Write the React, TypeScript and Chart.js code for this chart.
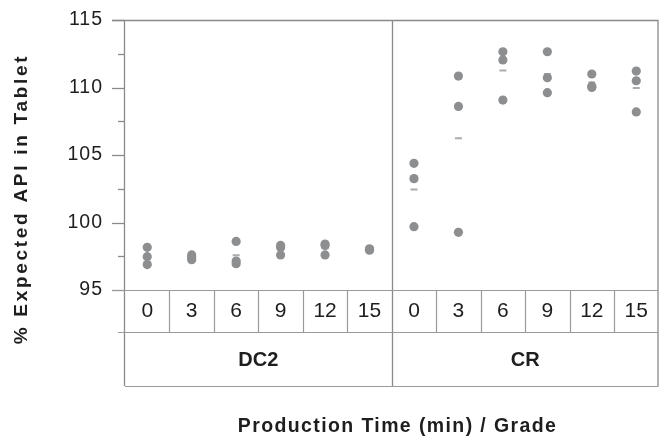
import React, { useEffect, useRef } from 'react';
import { Chart, registerables } from 'chart.js';

Chart.register(...registerables);

const timeLabels = ['0', '3', '6', '9', '12', '15'];
const gradeLabels = ['DC2', 'CR'];
const dc2Values = [
  [98.16, 97.47, 96.88],
  [97.6, 97.4, 97.25],
  [98.6, 97.15, 96.95],
  [98.3, 98.15, 97.6],
  [98.4, 98.3, 97.6],
  [98.05, 98.0, 97.95],
];
const crValues = [
  [104.38, 103.25, 99.69],
  [110.85, 108.6, 99.27],
  [112.65, 112.04, 109.07],
  [112.65, 110.73, 109.62],
  [111.0, 110.1, 110.0],
  [111.22, 110.5, 108.19],
];
const yMin = 95;
const yMax = 115;
const yStep = 2.5;
const yTitle = '% Expected API in Tablet';
const xTitle = 'Production Time (min) / Grade';

const groups = [dc2Values, crValues];

function fitText(ctx: CanvasRenderingContext2D, text: string, target: number) {
  ctx.letterSpacing = '0px';
  const w = ctx.measureText(text).width;
  const sp = Math.max(0, (target - w) / Math.max(1, text.length - 1));
  ctx.letterSpacing = sp.toFixed(2) + 'px';
  return sp;
}

export default function App() {
  const ref = useRef<HTMLCanvasElement>(null);
  useEffect(() => {
    if (!ref.current) return;
    const points: { x: number; y: number }[] = [];
    const means: { x: number; y: number }[] = [];
    groups.forEach((g, gi) =>
      g.forEach((vals, ti) => {
        const x = gi * timeLabels.length + ti + 0.5;
        vals.forEach((v) => points.push({ x, y: v }));
        means.push({ x, y: vals.reduce((a, b) => a + b, 0) / vals.length });
      })
    );
    const ncol = groups.length * timeLabels.length;
    const FONT = '"Liberation Sans", Arial, Helvetica, sans-serif';

    const framePlugin = {
      id: 'frame',
      beforeDraw(chart: any) {
        chart.ctx.letterSpacing = '1px';
      },
      beforeDatasetsDraw(chart: any) {
        chart.ctx.letterSpacing = '0px';
      },
      afterDraw(chart: any) {
        const { ctx, chartArea: ca, scales } = chart;
        const xs = scales.x;
        const ys = scales.y;
        const top = ca.top;
        const bottom = ca.bottom;
        const left = ca.left;
        const right = ca.right;
        const row1 = bottom + 42;
        const row2 = bottom + 96;
        ctx.save();
        ctx.letterSpacing = '0px';
        ctx.lineWidth = 1.3;
        ctx.strokeStyle = '#8a8a8a';
        ys.ticks.forEach((t: any) => {
          const py = Math.round(ys.getPixelForValue(t.value)) + 0.5;
          const major = Math.abs(t.value % 5) < 1e-6;
          ctx.beginPath();
          ctx.moveTo(left - (major ? 13 : 7), py);
          ctx.lineTo(left, py);
          ctx.stroke();
        });
        ctx.beginPath();
        ctx.moveTo(left - 0.5, top);
        ctx.lineTo(left - 0.5, row2);
        ctx.stroke();
        ctx.beginPath();
        ctx.moveTo(left - 13, top + 0.5);
        ctx.lineTo(right - 0.5, top + 0.5);
        ctx.lineTo(right - 0.5, row2);
        ctx.stroke();
        const midX = Math.round(xs.getPixelForValue(timeLabels.length)) + 0.5;
        ctx.beginPath();
        ctx.moveTo(midX, top);
        ctx.lineTo(midX, row2);
        ctx.stroke();
        ctx.strokeStyle = '#9a9a9a';
        ctx.lineWidth = 1.2;
        ctx.beginPath();
        ctx.moveTo(left - 13, bottom + 0.5);
        ctx.lineTo(right, bottom + 0.5);
        ctx.moveTo(left - 7, row1 + 0.5);
        ctx.lineTo(right, row1 + 0.5);
        ctx.moveTo(left, row2 + 0.5);
        ctx.lineTo(right, row2 + 0.5);
        for (let i = 1; i < ncol; i++) {
          if (i === timeLabels.length) continue;
          const px = Math.round(xs.getPixelForValue(i)) + 0.5;
          ctx.moveTo(px, bottom);
          ctx.lineTo(px, row1);
        }
        ctx.stroke();
        ctx.fillStyle = '#1e1e1e';
        ctx.textAlign = 'center';
        ctx.textBaseline = 'middle';
        ctx.font = '21px ' + FONT;
        for (let gi = 0; gi < groups.length; gi++) {
          timeLabels.forEach((lab, ti) => {
            const c = gi * timeLabels.length + ti + 0.5;
            ctx.fillText(lab, xs.getPixelForValue(c), bottom + 21);
          });
        }
        ctx.font = 'bold 20px ' + FONT;
        gradeLabels.forEach((g, gi) => {
          const c = gi * timeLabels.length + timeLabels.length / 2;
          ctx.fillText(g, xs.getPixelForValue(c), (row1 + row2) / 2 + 1);
        });
        ctx.font = 'bold 19.5px ' + FONT;
        fitText(ctx, xTitle, 318);
        ctx.fillText(xTitle, 397.5, 427);
        ctx.save();
        ctx.translate(22, 199);
        ctx.rotate(-Math.PI / 2);
        ctx.font = 'bold 19px ' + FONT;
        fitText(ctx, yTitle, 288);
        ctx.fillText(yTitle, 0, 0);
        ctx.restore();
        ctx.restore();
      },
    };

    const chart = new Chart(ref.current, {
      type: 'scatter',
      data: {
        datasets: [
          {
            label: 'Replicates',
            data: points,
            pointRadius: 4.6,
            pointHoverRadius: 4.6,
            backgroundColor: '#8d8e90',
            borderColor: '#8d8e90',
            borderWidth: 0,
          },
          {
            label: 'Mean',
            data: means,
            pointStyle: 'line',
            pointRadius: 3.5,
            pointHoverRadius: 3.5,
            borderColor: '#ababab',
            backgroundColor: '#ababab',
            borderWidth: 2,
          },
        ],
      },
      options: {
        responsive: false,
        animation: false,
        events: [],
        layout: { padding: { top: 20, right: 2, bottom: 146, left: 0 } },
        plugins: { legend: { display: false }, tooltip: { enabled: false } },
        scales: {
          x: { type: 'linear', min: 0, max: ncol, display: false },
          y: {
            type: 'linear',
            min: yMin,
            max: yMax,
            afterFit: (s: any) => {
              s.width = 125;
              s.paddingTop = 0;
              s.paddingBottom = 0;
            },
            afterBuildTicks: (s: any) => {
              const t = [];
              for (let v = yMin; v <= yMax + 1e-9; v += yStep) t.push({ value: v });
              s.ticks = t;
            },
            grid: { display: false, drawTicks: false },
            border: { display: false },
            ticks: {
              padding: 22,
              color: '#1e1e1e',
              font: { size: 19.5, family: FONT },
              autoSkip: false,
              callback: (v: any) => (Math.abs(Number(v) % 5) < 1e-6 ? String(v) : ''),
            },
          },
        },
      },
      plugins: [framePlugin],
    });
    return () => chart.destroy();
  }, []);
  return (
    <div style={{ position: 'absolute', left: 0, top: 0, width: 664, height: 436, background: '#fff' }}>
      <canvas ref={ref} width={664} height={436} style={{ display: 'block' }} />
    </div>
  );
}
